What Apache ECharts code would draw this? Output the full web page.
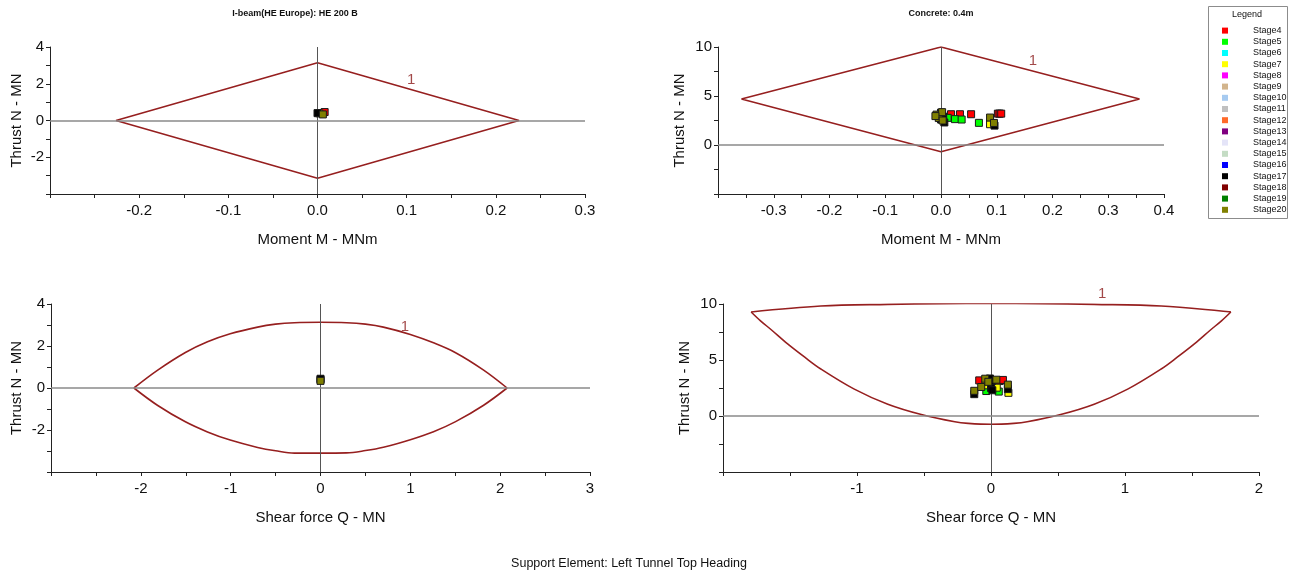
<!DOCTYPE html>
<html>
<head>
<meta charset="utf-8">
<script src="https://cdn.jsdelivr.net/npm/echarts@6/dist/echarts.min.js"></script>
<style>
html,body{margin:0;padding:0;background:#fff;}
#chart{width:1290px;height:572px;}
</style>
</head>
<body>
<div id="chart"></div>
<script>
// ---------- DATA ----------
const stageNames = ['Stage4','Stage5','Stage6','Stage7','Stage8','Stage9','Stage10','Stage11','Stage12','Stage13','Stage14','Stage15','Stage16','Stage17','Stage18','Stage19','Stage20'];
const stageColors = ['#ff0000','#00ff00','#00ffff','#ffff00','#ff00ff','#d2b48c','#a6caf0','#c0c0c0','#ff6a2a','#800080','#e4e4f8','#c4dcc4','#0000ff','#000000','#800000','#008000','#808000'];

const chartTitles = ['I-beam(HE Europe): HE 200 B', 'Concrete: 0.4m'];
const footerText = 'Support Element: Left Tunnel Top Heading';
const xNames = ['Moment M - MNm', 'Moment M - MNm', 'Shear force Q - MN', 'Shear force Q - MN'];
const yName = 'Thrust N - MN';
const envelopeLabel = '1';

// tick labels
const tlXLabels = ['-0.2','-0.1','0.0','0.1','0.2','0.3'];
const tlYLabels = ['4','2','0','-2'];
const trXLabels = ['-0.3','-0.2','-0.1','0.0','0.1','0.2','0.3','0.4'];
const trYLabels = ['10','5','0'];
const blXLabels = ['-2','-1','0','1','2','3'];
const blYLabels = ['4','2','0','-2'];
const brXLabels = ['-1','0','1','2'];
const brYLabels = ['10','5','0'];

// Top-left: steel M-N envelope
const tlEnvelope = [[-0.226,0],[0,3.14],[0.226,0],[0,-3.14],[-0.226,0]];
const tlLabelAt = [0.105,2.2];
const tlStage4 = [[0.008,0.46]];
const tlStage7 = [[0.002,0.39]];
const tlStage17 = [[0.0,0.40]];
const tlStage20 = [[0.006,0.33]];

// Top-right: concrete M-N envelope
const trEnvelope = [[-0.358,4.7],[0,10.0],[0.356,4.7],[0,-0.68],[-0.358,4.7]];
const trLabelAt = [0.165,8.6];
const trStage4 = [[0.018,3.14],[0.034,3.14],[0.054,3.14],[0.102,3.2],[0.105,3.2],[0.108,3.2]];
const trStage5 = [[0.012,2.77],[0.025,2.64],[0.037,2.6],[0.068,2.26]];
const trStage7 = [[0.088,2.12],[-0.004,2.9],[0.002,2.6]];
const trStage17 = [[0.096,1.98],[0.006,2.3],[0.0,2.6],[-0.004,3.0],[0.004,2.9],[0.0,3.3]];
const trStage20 = [[0.088,2.8],[0.095,2.25],[-0.008,3.1],[-0.004,2.75],[0.002,3.35],[-0.01,2.95],[0.003,2.5]];

// Bottom-left: steel Q-N envelope (upper and lower branches)
const blUpper = [[-2.077,0],[-1.816,0.84],[-1.504,1.69],[-1.258,2.2],[-1.005,2.58],[-0.7,2.9],[-0.5,3.04],[-0.29,3.11],[0,3.13],[0.29,3.11],[0.5,3.04],[0.7,2.9],[1.0,2.55],[1.258,2.15],[1.504,1.68],[1.816,0.85],[2.077,0]];
const blLower = [[-2.077,0],[-1.816,-0.82],[-1.504,-1.61],[-1.258,-2.09],[-1.005,-2.48],[-0.7,-2.83],[-0.5,-2.99],[-0.29,-3.1],[0,-3.1],[0.29,-3.09],[0.5,-2.98],[0.7,-2.82],[1.0,-2.46],[1.258,-2.08],[1.504,-1.6],[1.816,-0.82],[2.077,0]];
const blLabelAt = [0.94,2.9];
const blStage7 = [[0.0,0.4]];
const blStage17 = [[0.0,0.44]];
const blStage20 = [[0.0,0.34]];

// Bottom-right: concrete Q-N envelope (upper and lower branches)
const brUpper = [[-1.79,9.29],[-1.27,9.82],[-0.77,9.97],[-0.37,10.03],[0,10.05],[0.37,10.03],[0.77,9.97],[1.27,9.82],[1.79,9.29]];
const brLower = [[-1.79,9.29],[-1.72,8.5],[-1.64,7.7],[-1.52,6.46],[-1.39,5.25],[-1.27,4.2],[-1.02,2.4],[-0.77,1.05],[-0.52,0.13],[-0.27,-0.52],[-0.17,-0.66],[0,-0.74],
  [0.17,-0.66],[0.27,-0.52],[0.52,0.13],[0.77,1.05],[1.02,2.4],[1.27,4.2],[1.39,5.25],[1.52,6.46],[1.64,7.7],[1.72,8.5],[1.79,9.29]];
const brLabelAt = [0.83,10.9];
const brStage4 = [[-0.088,3.18],[0.065,3.12],[0.089,3.22]];
const brStage5 = [[-0.035,2.23],[0.058,2.18]];
const brStage7 = [[-0.043,2.74],[0.043,2.53],[0.13,2.07]];
const brStage17 = [[-0.125,1.95],[0.0,2.5],[0.0,2.85],[0.006,3.1],[-0.008,3.35],[0.01,2.3],[0.126,2.4]];
const brStage20 = [[-0.125,2.25],[-0.043,3.33],[-0.073,2.59],[0.04,3.24],[0.126,2.8],[-0.02,3.05]];

// ---------- BUILD ----------
const FONT = 'Liberation Sans, Arial, sans-serif';
const curveColor = '#961f1f';
const grids = [
  {left:50, top:47, width:535, height:147},
  {left:718, top:47, width:446, height:147},
  {left:51, top:304, width:539, height:168},
  {left:723, top:304, width:536, height:168}
];
// each chart: list of [branch, smooth?]
const envelopes = [
  [[tlEnvelope,false]],
  [[trEnvelope,false]],
  [[blUpper,true],[blLower,true]],
  [[brUpper,true],[brLower,true]]
];
const labelAts = [tlLabelAt, trLabelAt, blLabelAt, brLabelAt];
const stagePoints = [
  {Stage4: tlStage4, Stage7: tlStage7, Stage17: tlStage17, Stage20: tlStage20},
  {Stage4: trStage4, Stage5: trStage5, Stage7: trStage7, Stage17: trStage17, Stage20: trStage20},
  {Stage7: blStage7, Stage17: blStage17, Stage20: blStage20},
  {Stage4: brStage4, Stage5: brStage5, Stage7: brStage7, Stage17: brStage17, Stage20: brStage20}
];
const xSpec = [
  {min:-0.3, max:0.3, interval:0.05, labels:tlXLabels, dec:1},
  {min:-0.4, max:0.4, interval:0.05, labels:trXLabels, dec:1},
  {min:-3, max:3, interval:0.5, labels:blXLabels, dec:0},
  {min:-2, max:2, interval:0.5, labels:brXLabels, dec:0}
];
const ySpec = [
  {min:-4, max:4, interval:1, labels:tlYLabels, gap:26},
  {min:-5, max:10, interval:2.5, labels:trYLabels, gap:31},
  {min:-4, max:4, interval:1, labels:blYLabels, gap:27},
  {min:-5, max:10, interval:2.5, labels:brYLabels, gap:31}
];

function makeFmt(labels, dec){
  return function(v){
    let s = v.toFixed(dec);
    if (s === '-0.0') s = '0.0';
    if (s === '-0') s = '0';
    if (Math.abs(v - parseFloat(s)) > 1e-6) return '';
    return labels.indexOf(s) >= 0 ? s : '';
  };
}
const axisLineStyle = {color:'#222', width:1};

const xAxes = xSpec.map((s,i)=>({
  type:'value', gridIndex:i, min:s.min, max:s.max, interval:s.interval,
  name:xNames[i], nameLocation:'middle', nameGap:38,
  nameTextStyle:{fontSize:15, color:'#111', fontFamily:FONT},
  axisLine:{show:true, onZero:false, lineStyle:axisLineStyle},
  axisTick:{show:true, length:4, interval:0, lineStyle:axisLineStyle},
  axisLabel:{interval:0, margin:9, fontSize:15, color:'#111', fontFamily:FONT, formatter:makeFmt(s.labels, s.dec)},
  splitLine:{show:false}
}));
const yAxes = ySpec.map((s,i)=>({
  type:'value', gridIndex:i, min:s.min, max:s.max, interval:s.interval,
  name:yName, nameLocation:'middle', nameGap:s.gap,
  nameTextStyle:{fontSize:15, color:'#111', fontFamily:FONT},
  axisLine:{show:true, onZero:false, lineStyle:axisLineStyle},
  axisTick:{show:true, length:4, interval:0, lineStyle:axisLineStyle},
  axisLabel:{interval:0, margin:6, fontSize:15, color:'#111', fontFamily:FONT, formatter:makeFmt(s.labels, 0)},
  splitLine:{show:false}
}));

const series = [];
for (let i=0;i<4;i++){
  envelopes[i].forEach((br, b)=>{
    const s = {
      type:'line', xAxisIndex:i, yAxisIndex:i, data:br[0],
      symbol:'none', showSymbol:false, silent:true, z:2,
      smooth: br[1] ? 0.35 : false,
      lineStyle:{color:curveColor, width:1.6}
    };
    if (b === 0) {
      s.markLine = {silent:true, symbol:['none','none'], label:{show:false}, animation:false,
        data:[{xAxis:0, lineStyle:{color:'#555', width:1, type:'solid'}},
              {yAxis:0, lineStyle:{color:'#8a8a8a', width:1.5, type:'solid'}}]};
    }
    series.push(s);
  });
  series.push({
    type:'scatter', xAxisIndex:i, yAxisIndex:i, data:[labelAts[i]], symbolSize:0, silent:true, clip:false,
    label:{show:true, position:'inside', formatter:envelopeLabel, color:'#8b1a1a', fontSize:15, fontFamily:FONT}
  });
  stageNames.forEach((n,k)=>{
    series.push({
      type:'scatter', name:n, xAxisIndex:i, yAxisIndex:i,
      data:(stagePoints[i][n] || []), symbol:'rect', symbolSize:7, z:5,
      itemStyle:{color:stageColors[k], borderColor:'#1a1a1a', borderWidth:1, opacity:1}
    });
  });
}

const graphics = [
  {type:'text', x:295, y:14, style:{text:chartTitles[0], font:'bold 9px '+FONT, fill:'#111', textAlign:'center', textVerticalAlign:'middle'}},
  {type:'text', x:941, y:14, style:{text:chartTitles[1], font:'bold 9px '+FONT, fill:'#111', textAlign:'center', textVerticalAlign:'middle'}},
  {type:'text', x:629, y:564, style:{text:footerText, font:'12.5px '+FONT, fill:'#111', textAlign:'center', textVerticalAlign:'middle'}},
  {type:'rect', shape:{x:1208.5, y:6.5, width:79, height:212}, style:{fill:'none', stroke:'#8c8c8c', lineWidth:1}},
  {type:'text', x:1247, y:15, style:{text:'Legend', font:'9px '+FONT, fill:'#111', textAlign:'center', textVerticalAlign:'middle'}}
];

const chart = echarts.init(document.getElementById('chart'), null, {renderer:'canvas'});
chart.setOption({
  backgroundColor:'#fff',
  animation:false,
  grid:grids,
  xAxis:xAxes,
  yAxis:yAxes,
  legend:{
    data:stageNames, orient:'vertical', left:1222, top:25, padding:0,
    itemWidth:6, itemHeight:6, itemGap:0, icon:'rect', selectedMode:false,
    itemStyle:{borderWidth:0},
    textStyle:{fontSize:9, lineHeight:11.2, color:'#111', fontFamily:FONT, padding:[0,0,0,20]}
  },
  graphic:graphics,
  series:series
});
</script>
</body>
</html>
